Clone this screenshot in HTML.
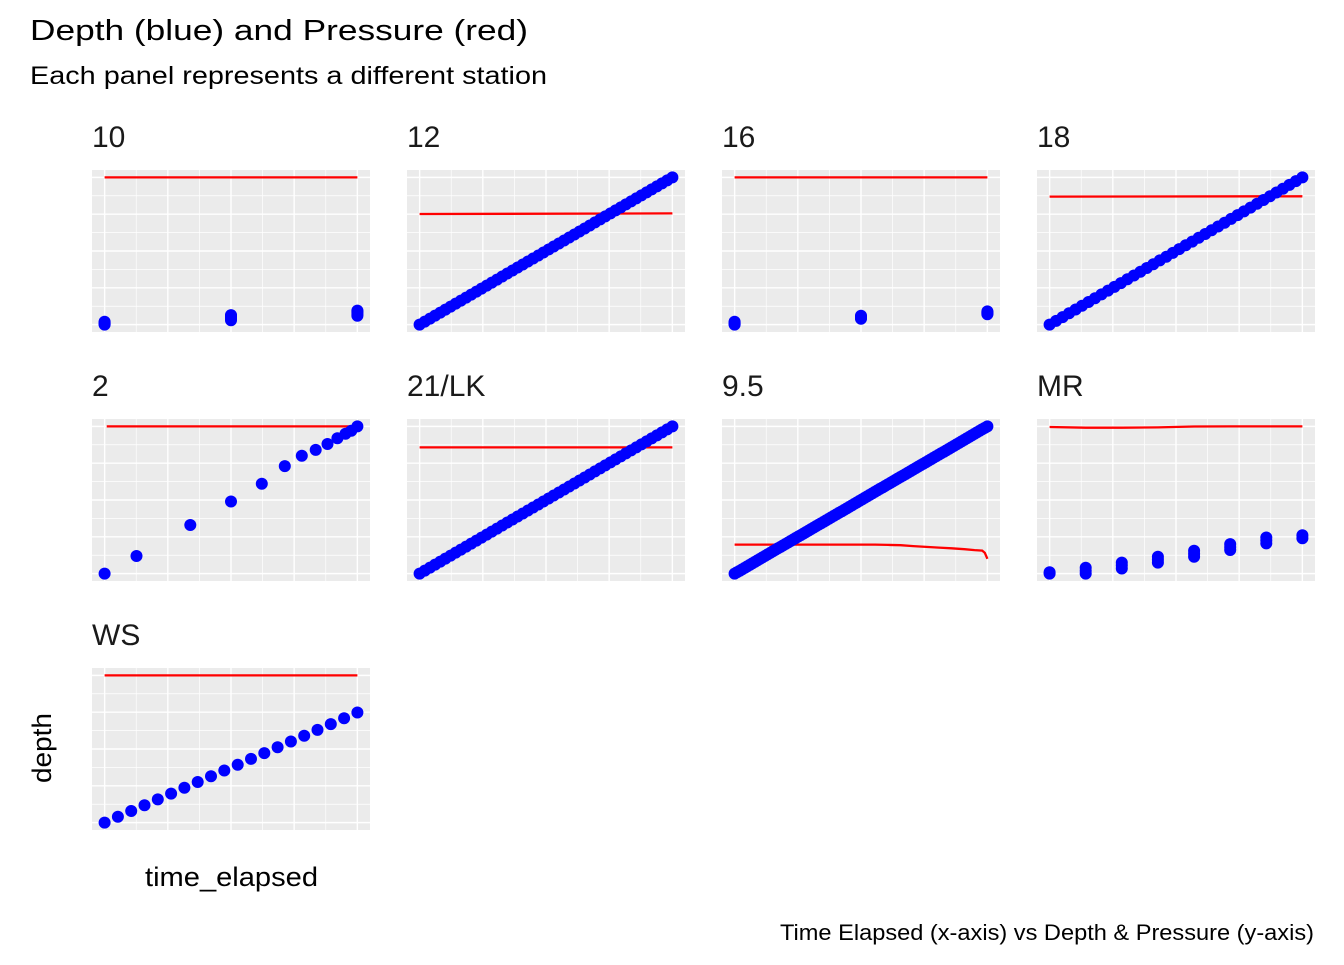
<!DOCTYPE html>
<html><head><meta charset="utf-8">
<style>
body{margin:0;background:#fff;}
svg text{font-family:"Liberation Sans",Arial,sans-serif;}
</style></head>
<body>
<svg id="chart" width="1344" height="960" xmlns="http://www.w3.org/2000/svg">
<text x="30" y="40" font-size="29" textLength="498" lengthAdjust="spacingAndGlyphs" fill="#000">Depth (blue) and Pressure (red)</text>
<text x="30" y="84" font-size="25" textLength="517" lengthAdjust="spacingAndGlyphs" fill="#000">Each panel represents a different station</text>
<text x="145" y="886" font-size="27" textLength="173" lengthAdjust="spacingAndGlyphs" fill="#000">time_elapsed</text>
<text transform="translate(51,783) rotate(-90)" font-size="27" textLength="70" lengthAdjust="spacingAndGlyphs" fill="#000">depth</text>
<text x="780" y="940" font-size="22" textLength="534" lengthAdjust="spacingAndGlyphs" fill="#000">Time Elapsed (x-axis) vs Depth &amp; Pressure (y-axis)</text>
<g id="panels"></g>
</svg>
<script>
// ---- data ----
const stations = ["10","12","16","18","2","21/LK","9.5","MR","WS"];
const time10 = [0,0,0,0,0,1,1,1,1,1,2,2,2,2,2];
const depth10 = [0,0.005,0.01,0.015,0.02,0.03,0.04,0.05,0.06,0.065,0.06,0.07,0.08,0.09,0.095];
const ptime10 = [0,2];
const pres10 = [1.0,1.0];
const time12 = [0,1,2,3,4,5,6,7,8,9,10,11,12,13,14,15,16,17,18,19,20,21,22,23,24,25,26,27,28,29,30,31,32,33,34,35,36,37,38,39,40,41,42,43,44,45,46,47,48,49];
const depth12 = [0,0.1,0.2,0.3,0.4,0.5,0.6,0.7,0.8,0.9,1.0,1.1,1.2,1.3,1.4,1.5,1.6,1.7,1.8,1.9,2.0,2.1,2.2,2.3,2.4,2.5,2.6,2.7,2.8,2.9,3.0,3.1,3.2,3.3,3.4,3.5,3.6,3.7,3.8,3.9,4.0,4.1,4.2,4.3,4.4,4.5,4.6,4.7,4.8,4.9];
const ptime12 = [0,49];
const pres12 = [3.68,3.70];
const time16 = [0,0,0,0,0,1,1,1,1,1,2,2,2,2,2];
const depth16 = [0,0.005,0.01,0.015,0.02,0.04,0.045,0.05,0.055,0.06,0.07,0.075,0.08,0.085,0.09];
const ptime16 = [0,2];
const pres16 = [1.0,1.0];
const time18 = [0,1,2,3,4,5,6,7,8,9,10,11,12,13,14,15,16,17,18,19,20,21,22,23,24,25,26,27,28,29,30,31,32,33,34,35,36,37,38,39];
const depth18 = [0,0.1,0.2,0.3,0.4,0.5,0.6,0.7,0.8,0.9,1.0,1.1,1.2,1.3,1.4,1.5,1.6,1.7,1.8,1.9,2.0,2.1,2.2,2.3,2.4,2.5,2.6,2.7,2.8,2.9,3.0,3.1,3.2,3.3,3.4,3.5,3.6,3.7,3.8,3.9];
const ptime18 = [0,39];
const pres18 = [3.39,3.40];
const time2 = [0,0.126,0.339,0.5,0.622,0.713,0.78,0.835,0.882,0.921,0.953,0.976,1];
const depth2 = [0,0.12,0.33,0.49,0.61,0.73,0.80,0.84,0.88,0.92,0.95,0.97,1];
const ptime2 = [0.008,1];
const pres2 = [1.0,1.0];
const time21 = time12.slice();
const depth21 = depth12.slice();
const ptime21 = [0,49];
const pres21 = [4.2,4.2];
const time95 = [0,1,2,3,4,5,6,7,8,9,10,11,12,13,14,15,16,17,18,19,20,21,22,23,24,25,26,27,28,29,30,31,32,33,34,35,36,37,38,39,40,41,42,43,44,45,46,47,48,49,50,51,52,53,54,55,56,57,58,59,60,61,62,63,64,65,66,67,68,69,70,71,72,73,74,75,76,77,78,79,80,81,82,83,84,85,86,87,88,89,90,91,92,93,94,95,96,97,98,99];
const depth95 = [0,0.1,0.2,0.3,0.4,0.5,0.6,0.7,0.8,0.9,1.0,1.1,1.2,1.3,1.4,1.5,1.6,1.7,1.8,1.9,2.0,2.1,2.2,2.3,2.4,2.5,2.6,2.7,2.8,2.9,3.0,3.1,3.2,3.3,3.4,3.5,3.6,3.7,3.8,3.9,4.0,4.1,4.2,4.3,4.4,4.5,4.6,4.7,4.8,4.9,5.0,5.1,5.2,5.3,5.4,5.5,5.6,5.7,5.8,5.9,6.0,6.1,6.2,6.3,6.4,6.5,6.6,6.7,6.8,6.9,7.0,7.1,7.2,7.3,7.4,7.5,7.6,7.7,7.8,7.9,8.0,8.1,8.2,8.3,8.4,8.5,8.6,8.7,8.8,8.9,9.0,9.1,9.2,9.3,9.4,9.5,9.6,9.7,9.8,9.9];
const ptime95 = [0,20,40,55,60,65,70,75,80,85,90,94,97,98,99];
const pres95 = [1.95,1.95,1.95,1.95,1.93,1.91,1.85,1.80,1.75,1.70,1.64,1.58,1.55,1.40,1.00];
const timeMR = [0,0,1,1,1,2,2,2,3,3,3,4,4,4,5,5,5,6,6,6,7,7];
const depthMR = [0,0.01,0.0,0.02,0.04,0.035,0.055,0.075,0.075,0.095,0.115,0.115,0.135,0.155,0.16,0.18,0.2,0.205,0.225,0.245,0.24,0.26];
const ptimeMR = [0,1,2,3,4,5,6,7];
const presMR = [0.995,0.99,0.99,0.992,0.998,0.999,0.999,0.999];
const timeWS = [0,1,2,3,4,5,6,7,8,9,10,11,12,13,14,15,16,17,18,19];
const depthWS = [0,0.1,0.2,0.3,0.4,0.5,0.6,0.7,0.8,0.9,1.0,1.1,1.2,1.3,1.4,1.5,1.6,1.7,1.8,1.9];
const ptimeWS = [0,19];
const presWS = [2.54,2.54];

const panelData = [
 [time10,depth10,ptime10,pres10],[time12,depth12,ptime12,pres12],[time16,depth16,ptime16,pres16],[time18,depth18,ptime18,pres18],
 [time2,depth2,ptime2,pres2],[time21,depth21,ptime21,pres21],[time95,depth95,ptime95,pres95],[timeMR,depthMR,ptimeMR,presMR],
 [timeWS,depthWS,ptimeWS,presWS]];

const NS="http://www.w3.org/2000/svg";
const root=document.getElementById('panels');
const colX=[92,407,722,1037], rowY=[170,419,668], PW=278, PH=162;
function mk(tag,attrs,parent){const e=document.createElementNS(NS,tag);for(const k in attrs)e.setAttribute(k,attrs[k]);parent.appendChild(e);return e;}

stations.forEach((name,i)=>{
  const [t,d,pt,pv]=panelData[i];
  const x0=colX[i%4], y0=rowY[Math.floor(i/4)];
  const g=mk('g',{},root);
  
  
  const lab=mk('text',{x:x0,y:y0-23,'font-size':'30',fill:'#1a1a1a'},g);
  lab.textContent=name;
  
  
  const bg=mk('rect',{x:x0,y:y0,width:PW,height:PH,fill:'#EBEBEB'},g);
  
  
  const allT=t.concat(pt), allV=d.concat(pv);
  const tmin=Math.min(...allT), tmax=Math.max(...allT), vmin=Math.min(...allV), vmax=Math.max(...allV);
  const tr=(tmax-tmin)||1, vr=(vmax-vmin)||1;
  const xs=v=>x0+PW*(0.0455+0.909*(v-tmin)/tr);
  const ys=v=>y0+PH*(1-(0.0455+0.909*(v-vmin)/vr));
  for(let k=0;k<=8;k++){const gx=x0+PW*(0.0455+0.909*k/8);
    mk('line',{x1:gx,x2:gx,y1:y0,y2:y0+PH,stroke:'#fff','stroke-width':k%2?0.7:1.4},g);}
  for(let k=0;k<=8;k++){const gy=y0+PH*(0.0455+0.909*k/8);
    mk('line',{x1:x0,x2:x0+PW,y1:gy,y2:gy,stroke:'#fff','stroke-width':k%2?0.7:1.4},g);}
  const pts=pt.map((v,j)=>xs(v).toFixed(1)+','+ys(pv[j]).toFixed(1)).join(' ');
  const pl=mk('polyline',{points:pts,fill:'none',stroke:'#ff0000','stroke-width':2.3},g);
  
  
  t.forEach((v,j)=>{
    const c=mk('circle',{cx:xs(v).toFixed(1),cy:ys(d[j]).toFixed(1),r:6,fill:'#0000ff'},g);
    
    
  });
});
</script>
</body></html>
